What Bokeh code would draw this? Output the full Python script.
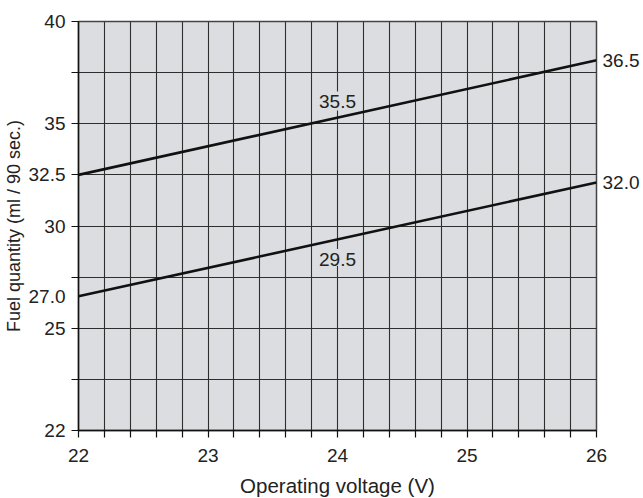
import numpy as np
from bokeh.plotting import figure
from bokeh.models import FixedTicker, Label, Range1d, LinearAxis
from bokeh.embed import file_html
from bokeh.resources import INLINE

# ---------------- data ----------------
x_major_ticks = [22, 23, 24, 25, 26]
x_minor_ticks = [22.2, 22.4, 22.6, 22.8, 23.2, 23.4, 23.6, 23.8,
                 24.2, 24.4, 24.6, 24.8, 25.2, 25.4, 25.6, 25.8]
y_labeled_values = [40, 35, 30, 25, 22]
y_grid_values = [40, 37.5, 35, 32.5, 30, 27.5, 25, 23.5, 22]

voltage = [22, 26]
upper_line = [32.5, 38.1]      # drawn position, read on the axis scale
lower_line = [26.56, 32.13]
upper_texts = ["32.5", "35.5", "36.5"]   # start, middle, end annotations
lower_texts = ["27.0", "29.5", "32.0"]
mid_voltage = 24

x_title = "Operating voltage (V)"
y_title = "Fuel quantity (ml / 90 sec.)"

# broken axis: 2.5 per grid step above 25, 1.5 per grid step below
def to_axis(v):
    return v if v >= 25 else 25 - (25 - v) * 2.5 / 1.5

def key_of(a):
    a = float(a)
    return int(a) if a.is_integer() else a

BG = "#dcdde0"
GRID = "#2e2e2e"
TXT = "#222222"
FONT = "Liberation Sans"
NUM_SIZE = "19px"

p = figure(output_backend="svg", toolbar_location=None,
           frame_width=518, frame_height=409,
           x_range=Range1d(22, 26), y_range=Range1d(to_axis(22), 40))
p.min_border_left = 72
p.min_border_top = 21
p.min_border_right = 45
p.min_border_bottom = 68
p.background_fill_color = BG
p.border_fill_color = "white"
p.outline_line_color = "#444444"
p.outline_line_width = 1.5

# x axis
p.xaxis.ticker = FixedTicker(ticks=x_major_ticks, minor_ticks=x_minor_ticks)
p.xgrid.ticker = FixedTicker(ticks=x_major_ticks, minor_ticks=x_minor_ticks)
xa = p.xaxis[0]
xa.major_tick_out = 7
xa.minor_tick_out = 7
xa.major_tick_in = 0
xa.minor_tick_in = 0
xa.major_label_standoff = 11

# y axis: tick marks at every grid line (minor), labels (major, no mark)
y_grid_pos = [to_axis(v) for v in y_grid_values]
y_label_pos = [to_axis(v) for v in y_labeled_values] + [upper_line[0], lower_line[0]]
y_label_txt = [f"{v:g}" for v in y_labeled_values] + [upper_texts[0], lower_texts[0]]
ya = p.yaxis[0]
ya.ticker = FixedTicker(ticks=y_label_pos, minor_ticks=y_grid_pos)
p.ygrid.ticker = FixedTicker(ticks=y_grid_pos)
ya.major_label_overrides = {key_of(a): t for a, t in zip(y_label_pos, y_label_txt)}
ya.major_tick_line_color = None
ya.major_tick_out = 0
ya.major_tick_in = 0
ya.minor_tick_out = 7
ya.minor_tick_in = 0
ya.major_label_standoff = 6

for ax in (xa, ya):
    if ax is xa:
        ax.major_tick_line_color = "#111111"
        ax.major_tick_line_width = 1.2
    ax.minor_tick_line_color = "#111111"
    ax.minor_tick_line_width = 1.2
    ax.axis_line_color = "#111111"
    ax.axis_line_width = 1.4
    ax.major_label_text_font = FONT
    ax.major_label_text_font_size = NUM_SIZE
    ax.major_label_text_color = TXT
    ax.axis_label_text_font_style = "normal"
    ax.axis_label_text_color = TXT

xa.axis_label = x_title
xa.axis_label_text_font = FONT
xa.axis_label_text_font_size = "20.5px"
xa.axis_label_standoff = 9
ya.axis_label = y_title
ya.axis_label_text_font = FONT
ya.axis_label_text_font_size = "18px"
ya.axis_label_standoff = 2

# right-side end values
r_pos = [upper_line[1], lower_line[1]]
r_txt = [upper_texts[2], lower_texts[2]]
ra = LinearAxis(ticker=FixedTicker(ticks=r_pos, minor_ticks=[]),
                major_label_overrides={key_of(a): t for a, t in zip(r_pos, r_txt)},
                axis_line_color=None, major_tick_line_color=None,
                minor_tick_line_color=None, major_tick_out=0, major_tick_in=0,
                major_label_standoff=6, major_label_text_font=FONT,
                major_label_text_font_size=NUM_SIZE, major_label_text_color=TXT)
p.add_layout(ra, "right")

for g in (p.xgrid[0], p.ygrid[0]):
    g.grid_line_color = GRID
    g.grid_line_width = 1.1
    g.minor_grid_line_color = GRID
    g.minor_grid_line_width = 1.1

# lines
p.line(voltage, upper_line, line_color="#111111", line_width=2.6)
p.line(voltage, lower_line, line_color="#111111", line_width=2.6)

# middle annotations (covering the 24 V grid line)
def ann(x, y, text, yo, pad):
    p.add_layout(Label(x=x, y=y, text=text, text_align="center",
                       text_baseline="middle", y_offset=yo, text_font=FONT,
                       text_font_size=NUM_SIZE, text_color=TXT,
                       background_fill_color=BG, padding=pad))

up_mid = float(np.interp(mid_voltage, voltage, upper_line))
lo_mid = float(np.interp(mid_voltage, voltage, lower_line))
ann(mid_voltage, up_mid, upper_texts[1], 16.5, dict(left=2, right=2, top=3, bottom=3))
ann(mid_voltage, lo_mid, lower_texts[1], -18, dict(left=2, right=2, top=4, bottom=0))

open("out.html", "w").write(file_html(p, INLINE))
